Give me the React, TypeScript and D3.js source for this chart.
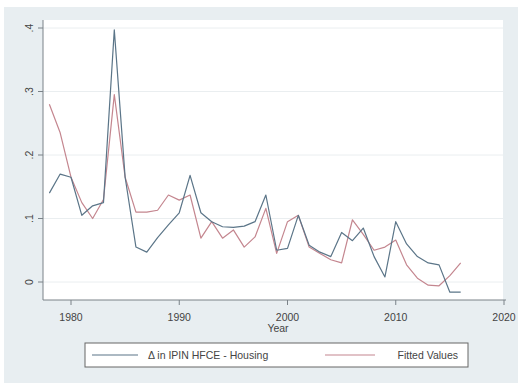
import React from "react";
import * as d3 from "d3";

const years: number[] = d3.range(1978, 2017);

const actual: number[] = [
  0.14, 0.17, 0.165, 0.105, 0.12, 0.125, 0.397, 0.165, 0.055, 0.047,
  0.07, 0.09, 0.109, 0.168, 0.109, 0.095, 0.087, 0.086, 0.088, 0.095,
  0.137, 0.05, 0.053, 0.105, 0.058, 0.047, 0.04, 0.078, 0.065, 0.085,
  0.04, 0.008, 0.095, 0.06, 0.04, 0.03, 0.027, -0.016, -0.016,
];

const fitted: number[] = [
  0.28, 0.235, 0.165, 0.125, 0.1, 0.13, 0.295, 0.165, 0.11, 0.11,
  0.113, 0.137, 0.129, 0.137, 0.069, 0.095, 0.069, 0.082, 0.055, 0.071,
  0.116, 0.045, 0.095, 0.105, 0.055, 0.045, 0.035, 0.03, 0.098, 0.075,
  0.05, 0.055, 0.066, 0.027, 0.006, -0.005, -0.006, 0.01, 0.03,
];

const xTicks: number[] = [1980, 1990, 2000, 2010, 2020];
const yTicks: number[] = [0, 0.1, 0.2, 0.3, 0.4];
const yTickLabels: string[] = ["0", ".1", ".2", ".3", ".4"];
const seriesNames: string[] = ["\u0394 in IPIN HFCE - Housing", "Fitted Values"];

const W = 518;
const H = 383;
const plot = { left: 43, right: 503, top: 20, bottom: 300 };
const blue = "#5b7588";
const red = "#c4868f";
const font = "'Liberation Sans', Arial, sans-serif";

export default function App() {
  const x = d3.scaleLinear().domain([1980, 2020]).range([71, 504]);
  const y = d3.scaleLinear().domain([0, 0.4]).range([282, 28]);

  const line = d3
    .line<number>()
    .x((_, i) => x(years[i]))
    .y((d) => y(d));

  return (
    <svg
      width={W}
      height={H}
      style={{ position: "absolute", left: 0, top: 0, display: "block" }}
      fontFamily={font}
    >
      <rect x={0} y={0} width={W} height={H} fill="#ffffff" />
      <rect x={4} y={7} width={W - 4} height={H - 7} fill="#e8eef1" />
      <rect
        x={plot.left}
        y={plot.top}
        width={plot.right - plot.left}
        height={plot.bottom - plot.top}
        fill="#ffffff"
      />
      {/* gridlines */}
      {yTicks.map((t) => (
        <line
          key={"g" + t}
          x1={plot.left}
          x2={plot.right}
          y1={y(t)}
          y2={y(t)}
          stroke="#eaeef0"
          strokeWidth={1}
        />
      ))}
      {/* y axis */}
      <line x1={plot.left} x2={plot.left} y1={plot.top} y2={plot.bottom} stroke="#7a8288" strokeWidth={1} />
      {yTicks.map((t, i) => (
        <g key={"y" + t}>
          <line x1={plot.left - 5} x2={plot.left} y1={y(t)} y2={y(t)} stroke="#7a8288" />
          <text
            transform={`translate(${33},${y(t)}) rotate(-90)`}
            textAnchor="middle"
            fontSize={10.5}
            fill="#444"
          >
            {yTickLabels[i]}
          </text>
        </g>
      ))}
      {/* x axis */}
      <line x1={plot.left} x2={506} y1={plot.bottom} y2={plot.bottom} stroke="#7a8288" strokeWidth={1} />
      {xTicks.map((t) => (
        <g key={"x" + t}>
          <line x1={x(t)} x2={x(t)} y1={plot.bottom} y2={plot.bottom + 5} stroke="#7a8288" />
          <text x={x(t)} y={321} textAnchor="middle" fontSize={10.5} fill="#444">
            {t}
          </text>
        </g>
      ))}
      <text x={(plot.left + plot.right) / 2 + 5} y={332} textAnchor="middle" fontSize={10.5} fill="#444">
        Year
      </text>
      {/* series */}
      <path d={line(fitted) || ""} fill="none" stroke={red} strokeWidth={1.2} strokeLinejoin="round" />
      <path d={line(actual) || ""} fill="none" stroke={blue} strokeWidth={1.2} strokeLinejoin="round" />
      {/* legend */}
      <rect x={85} y={343} width={383} height={24} fill="#ffffff" stroke="#666" strokeWidth={1} />
      <line x1={92} x2={138} y1={355} y2={355} stroke={blue} strokeWidth={1.2} />
      <text x={148} y={359} fontSize={10.5} fill="#444">
        {seriesNames[0]}
      </text>
      <line x1={325} x2={375} y1={355} y2={355} stroke={red} strokeWidth={1.2} />
      <text x={458} y={359} textAnchor="end" fontSize={10.5} fill="#444">
        {seriesNames[1]}
      </text>
    </svg>
  );
}
